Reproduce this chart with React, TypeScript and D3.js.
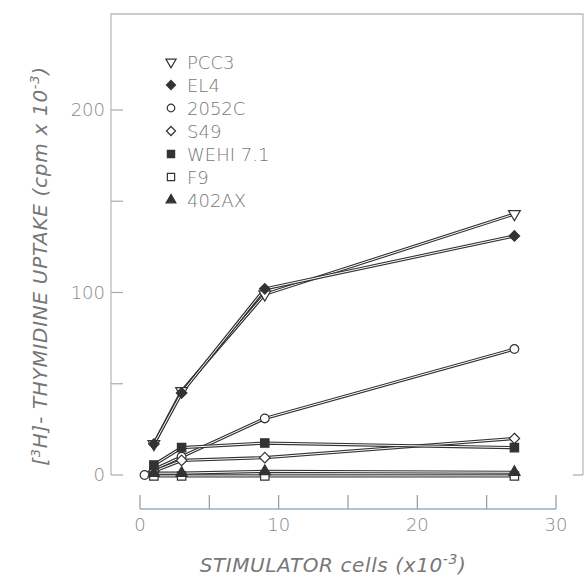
import React from "react";
import * as d3 from "d3";

// stimulator doses (x10^-3) and uptake (cpm x10^-3) per responder line
const pcc3X = [1, 3, 9, 27];
const pcc3Y = [17, 46, 99, 143];
const el4X = [1, 3, 9, 27];
const el4Y = [17, 45, 102, 131];
const c2052X = [0.33, 1, 3, 9, 27];
const c2052Y = [0, 3, 10, 31, 69];
const s49X = [1, 3, 9, 27];
const s49Y = [2, 8, 9.5, 20];
const wehiX = [1, 3, 9, 27];
const wehiY = [5.5, 15, 17.5, 15];
const f9X = [1, 3, 9, 27];
const f9Y = [-0.5, -0.5, -0.5, -0.5];
const ax402X = [1, 3, 9, 27];
const ax402Y = [1, 1, 2, 1.5];

const legendNames = ["PCC3", "EL4", "2052C", "S49", "WEHI 7.1", "F9", "402AX"];
const xTicks = [0, 5, 10, 15, 20, 25, 30];
const xTickLabels = [0, 10, 20, 30];
const yTicks = [0, 50, 100, 150, 200];
const yTickLabels = [0, 100, 200];

const width = 585;
const height = 579;

const x = d3.scaleLinear().domain([0, 30]).range([140, 556]);
const y = d3.scaleLinear().domain([0, 200]).range([475, 110]);

const ink = "#333";
const textCol = "#888";

type Marker = { type: d3.SymbolType; size: number; fill: boolean; rot: number };

const diamond = (d3 as any).symbolDiamond2 || d3.symbolDiamond;

const markers: Marker[] = [
  { type: d3.symbolTriangle, size: 60, fill: false, rot: 180 },
  { type: diamond, size: 70, fill: true, rot: 0 },
  { type: d3.symbolCircle, size: 60, fill: false, rot: 0 },
  { type: diamond, size: 70, fill: false, rot: 0 },
  { type: d3.symbolSquare, size: 70, fill: true, rot: 0 },
  { type: d3.symbolSquare, size: 70, fill: false, rot: 0 },
  { type: d3.symbolTriangle, size: 55, fill: true, rot: 0 },
];

const series = [
  { xs: pcc3X, ys: pcc3Y },
  { xs: el4X, ys: el4Y },
  { xs: c2052X, ys: c2052Y },
  { xs: s49X, ys: s49Y },
  { xs: wehiX, ys: wehiY },
  { xs: f9X, ys: f9Y },
  { xs: ax402X, ys: ax402Y },
];

const line = d3
  .line<[number, number]>()
  .x((d) => x(d[0]))
  .y((d) => y(d[1]));

const Sym = ({ m, cx, cy, scale = 1 }: { m: Marker; cx: number; cy: number; scale?: number }) => (
  <path
    d={d3.symbol().type(m.type).size(m.size * scale)() || ""}
    transform={`translate(${cx},${cy}) rotate(${m.rot})`}
    fill={m.fill ? ink : "#fff"}
    stroke={ink}
    strokeWidth={1.2}
  />
);

export default function App() {
  const paths = series.map((s) => line(s.xs.map((v, i) => [v, s.ys[i]] as [number, number])) || "");
  const font = "'DejaVu Sans', 'Liberation Sans', sans-serif";
  return (
    <svg
      width={width}
      height={height}
      style={{ position: "absolute", left: 0, top: 0, background: "#fff" }}
      fontFamily={font}
      fontWeight={200}
    >
      {/* frame */}
      <path d={`M111,${y(0)} V14 H583 V${y(0)}`} fill="none" stroke="#bbb" strokeWidth={1.3} />
      {yTicks.map((t) => (
        <line key={t} x1={111} x2={123} y1={y(t)} y2={y(t)} stroke="#aaa" strokeWidth={1.2} />
      ))}
      <line x1={573} x2={583} y1={y(0)} y2={y(0)} stroke="#aaa" strokeWidth={1.2} />
      {yTickLabels.map((t) => (
        <text key={t} x={105} y={y(t) + 6} textAnchor="end" fontSize={18} fill={textCol}>
          {t}
        </text>
      ))}

      {/* x axis */}
      <line x1={x(0)} x2={x(30)} y1={509} y2={509} stroke="#8fb3cc" strokeWidth={1.3} />
      {xTicks.map((t) => (
        <line key={t} x1={x(t)} x2={x(t)} y1={495} y2={509} stroke="#999" strokeWidth={1.2} />
      ))}
      {xTickLabels.map((t) => (
        <text key={t} x={x(t)} y={531} textAnchor="middle" fontSize={18} fill={textCol}>
          {t}
        </text>
      ))}
      <text x={333} y={572} textAnchor="middle" fontSize={20} fontStyle="italic" fill="#777" letterSpacing={0.6}>
        STIMULATOR cells (x10
        <tspan dy={-8} fontSize={14}>-3</tspan>
        <tspan dy={8}>)</tspan>
      </text>
      <text
        transform="translate(47,266) rotate(-90)"
        textAnchor="middle"
        fontSize={20}
        fontStyle="italic"
        fill="#777"
        letterSpacing={0.7}
      >
        [<tspan dy={-7} fontSize={13}>3</tspan>
        <tspan dy={7}>H]- THYMIDINE UPTAKE (cpm x 10</tspan>
        <tspan dy={-8} fontSize={13}>-3</tspan>
        <tspan dy={8}>)</tspan>
      </text>

      {/* lines as double-stroked tubes */}
      {paths.map((d, i) => (
        <g key={i}>
          <path d={d} fill="none" stroke={ink} strokeWidth={3.2} />
          <path d={d} fill="none" stroke="#fff" strokeWidth={1} />
        </g>
      ))}
      {series.map((s, i) =>
        s.xs.map((v, j) => <Sym key={`${i}-${j}`} m={markers[i]} cx={x(v)} cy={y(s.ys[j])} />)
      )}

      {/* legend */}
      {legendNames.map((name, i) => (
        <g key={name} transform={`translate(0,${62 + i * 23})`}>
          <Sym m={markers[i]} cx={171} cy={0} scale={0.75} />
          <text x={187} y={7} fontSize={18} fill="#777">
            {name}
          </text>
        </g>
      ))}
    </svg>
  );
}
